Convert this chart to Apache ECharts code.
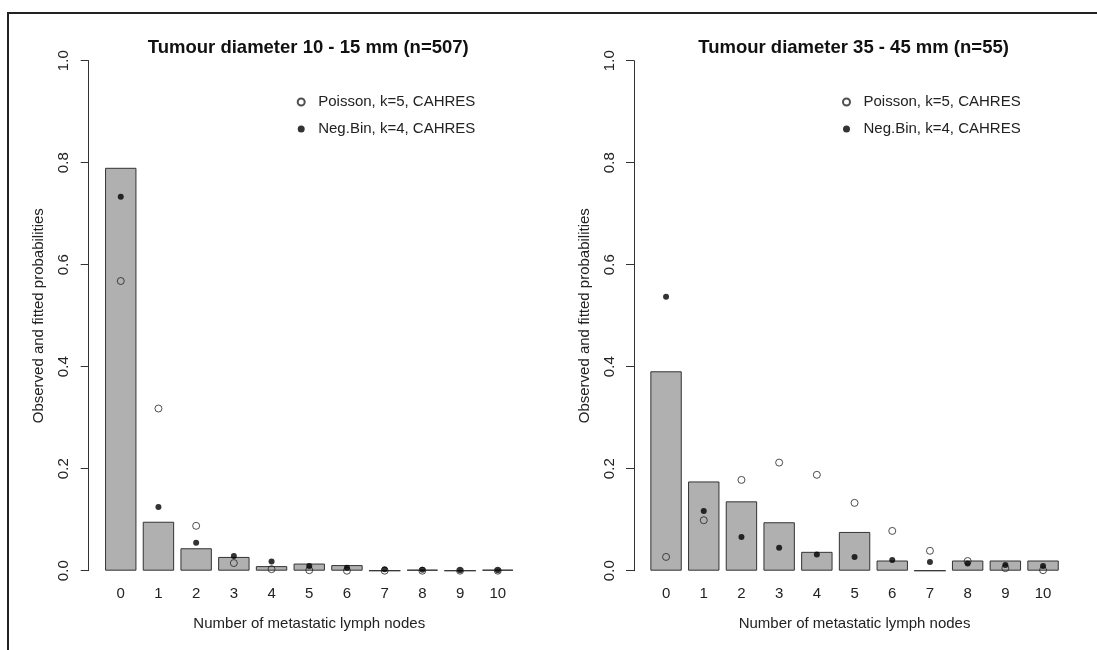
<!DOCTYPE html>
<html>
<head>
<meta charset="utf-8">
<title>Metastatic lymph nodes</title>
<script src="https://cdn.jsdelivr.net/npm/echarts@6/dist/echarts.min.js"></script>
<style>
  html, body { margin: 0; padding: 0; background: #fff; }
  #chart { width: 1097px; height: 650px; }
</style>
</head>
<body>
<div id="chart"></div>
<script>
// categories: number of metastatic lymph nodes
const nodes = ['0', '1', '2', '3', '4', '5', '6', '7', '8', '9', '10'];

// tumour diameter 10 - 15 mm (n=507)
const observedSmall = [0.79, 0.096, 0.044, 0.027, 0.009, 0.014, 0.011, 0, 0.002, 0, 0.002];
const poissonSmall = [0.568, 0.318, 0.088, 0.015, 0.003, 0.001, 0, 0, 0, 0, 0];
const negbinSmall = [0.733, 0.125, 0.055, 0.029, 0.018, 0.009, 0.006, 0.003, 0.002, 0.001, 0.001];

// tumour diameter 35 - 45 mm (n=55)
const observedLarge = [0.391, 0.175, 0.136, 0.095, 0.037, 0.076, 0.02, 0, 0.02, 0.02, 0.02];
const poissonLarge = [0.027, 0.099, 0.178, 0.212, 0.188, 0.133, 0.078, 0.039, 0.019, 0.005, 0.001];
const negbinLarge = [0.537, 0.117, 0.066, 0.045, 0.032, 0.027, 0.021, 0.017, 0.014, 0.011, 0.009];

const titles = ['Tumour diameter 10 - 15 mm (n=507)', 'Tumour diameter 35 - 45 mm (n=55)'];
const poissonName = 'Poisson, k=5, CAHRES';
const negbinName = 'Neg.Bin, k=4, CAHRES';

const font = 'Liberation Sans, Arial, Helvetica, sans-serif';
const axisX = [88.7, 634];      // where the y axis line sits in each panel
const axisShift = 13.2;         // gap between y axis and first category band
const plotWidth = 414.7;

const chart = echarts.init(document.getElementById('chart'));

const grids = [], xAxes = [], yAxes = [], legends = [], titleList = [];
axisX.forEach(function (ax, i) {
  grids.push({ left: ax + axisShift, top: 60.7, width: plotWidth, height: 510 });
  titleList.push({
    text: titles[i],
    left: ax + axisShift + plotWidth / 2 - 6,
    top: 33,
    textAlign: 'center',
    textStyle: { fontFamily: font, fontSize: 18.5, fontWeight: 'bold', color: '#111' }
  });
  xAxes.push({
    type: 'category',
    gridIndex: i,
    data: nodes,
    axisLine: { show: false },
    axisTick: { show: false },
    axisLabel: { margin: 16, fontFamily: font, fontSize: 15, color: '#222' },
    name: 'Number of metastatic lymph nodes',
    nameLocation: 'middle',
    nameGap: 46,
    nameTextStyle: { fontFamily: font, fontSize: 15, color: '#222' }
  });
  yAxes.push({
    type: 'value',
    gridIndex: i,
    min: 0,
    max: 1,
    interval: 0.2,
    offset: axisShift,
    splitLine: { show: false },
    axisLine: { show: true, lineStyle: { color: '#333', width: 1 } },
    axisTick: { show: true, length: 8, lineStyle: { color: '#333' } },
    axisLabel: {
      rotate: 90,
      margin: 17,
      fontFamily: font,
      fontSize: 15,
      color: '#222',
      formatter: function (v) { return v.toFixed(1); }
    },
    name: 'Observed and fitted probabilities',
    nameLocation: 'middle',
    nameRotate: 90,
    nameGap: 42,
    nameTextStyle: { fontFamily: font, fontSize: 15, color: '#222' }
  });
  legends.push({
    orient: 'vertical',
    left: ax + 215 - 12,
    top: 88,
    itemWidth: 24,
    itemHeight: 7,
    itemGap: 9,
    selectedMode: false,
    data: [poissonName, negbinName],
    textStyle: { fontFamily: font, fontSize: 15, color: '#222', lineHeight: 18, padding: 0 }
  });
});

function panelSeries(idx, observed, poisson, negbin) {
  return [
    {
      name: 'Observed',
      type: 'bar',
      xAxisIndex: idx,
      yAxisIndex: idx,
      barWidth: '83.3%',
      data: observed,
      itemStyle: { color: '#b0b0b0', borderColor: '#333', borderWidth: 1 }
    },
    {
      name: poissonName,
      type: 'scatter',
      xAxisIndex: idx,
      yAxisIndex: idx,
      symbol: 'circle',
      symbolSize: 7,
      data: poisson,
      itemStyle: { color: 'rgba(0,0,0,0)', borderColor: '#222', borderWidth: 1 }
    },
    {
      name: negbinName,
      type: 'scatter',
      xAxisIndex: idx,
      yAxisIndex: idx,
      symbol: 'circle',
      symbolSize: 6,
      data: negbin,
      itemStyle: { color: '#000' }
    }
  ];
}

chart.setOption({
  backgroundColor: '#fff',
  animation: false,
  title: titleList,
  legend: legends,
  grid: grids,
  xAxis: xAxes,
  yAxis: yAxes,
  series: panelSeries(0, observedSmall, poissonSmall, negbinSmall)
    .concat(panelSeries(1, observedLarge, poissonLarge, negbinLarge)),
  graphic: [{
    type: 'polyline',
    shape: { points: [[8, 660], [8, 13], [1100, 13]] },
    style: { stroke: '#222', lineWidth: 2, fill: null }
  }]
});
</script>
</body>
</html>
